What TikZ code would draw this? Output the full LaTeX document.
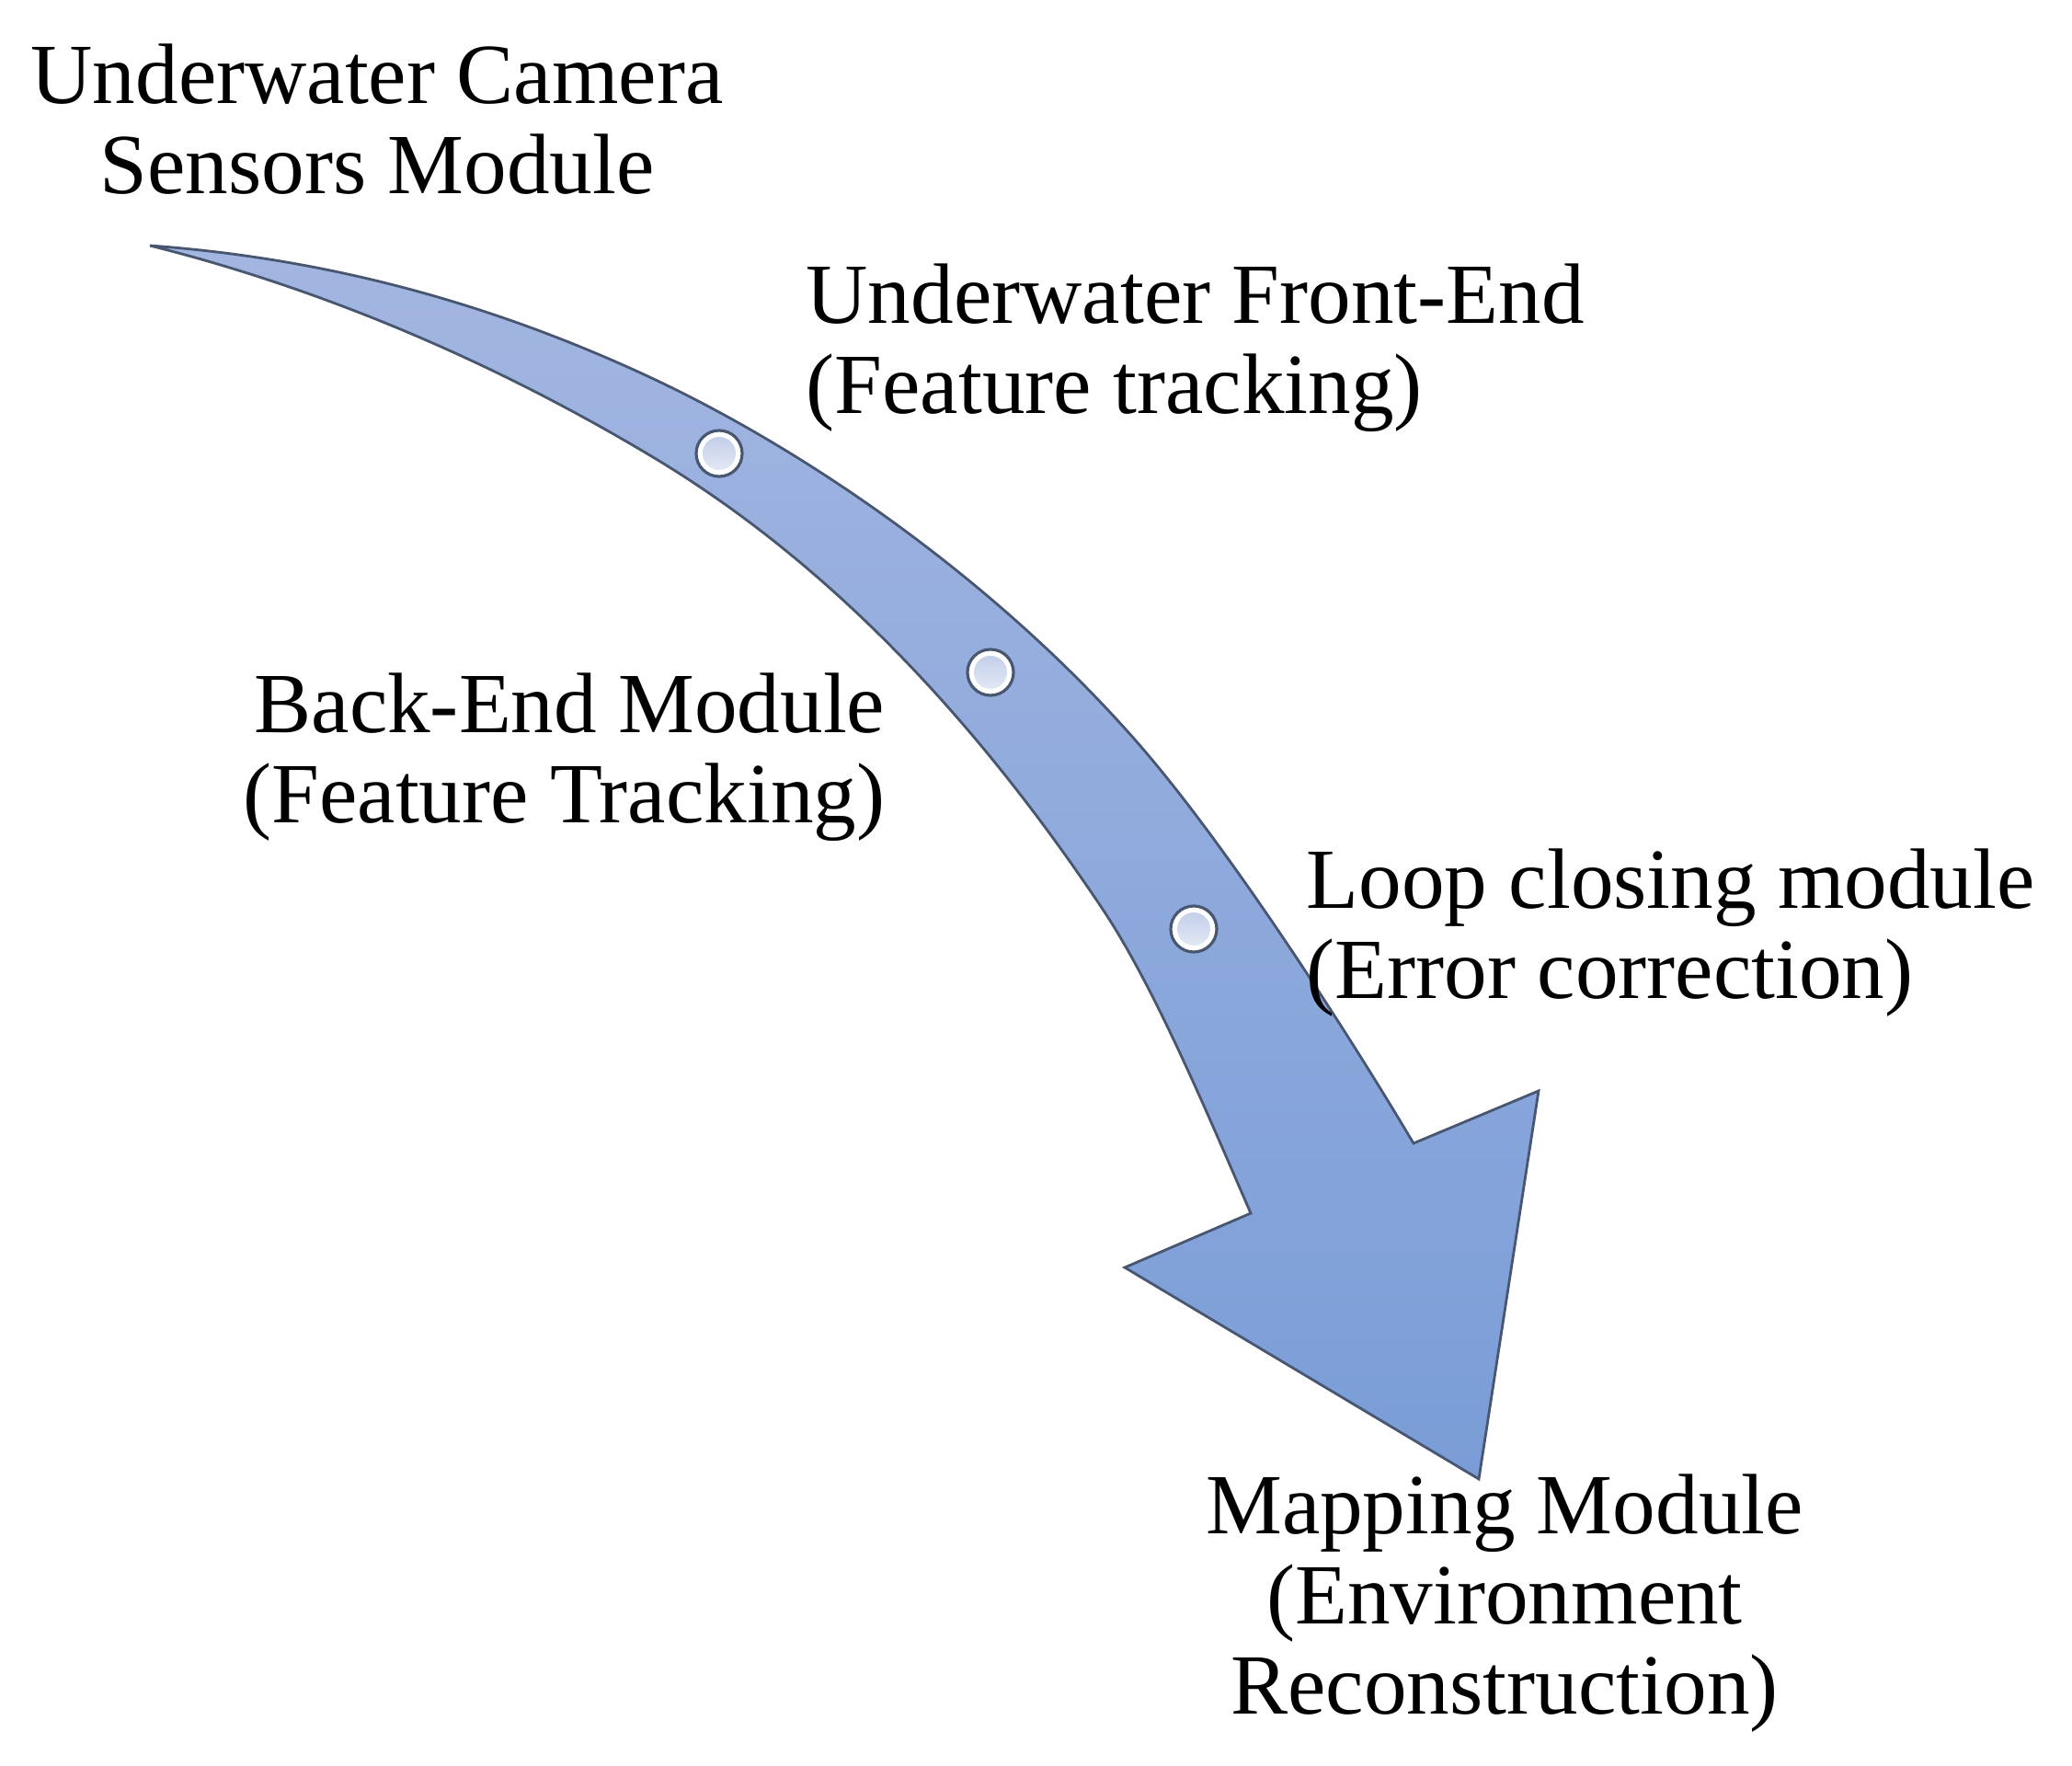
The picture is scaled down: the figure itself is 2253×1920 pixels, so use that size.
\documentclass[tikz,border=0pt]{standalone}
\usepackage{fontspec}
\setmainfont{Liberation Serif}
\usetikzlibrary{positioning}

\definecolor{arrowtop}{RGB}{163,182,225}
\definecolor{arrowbot}{RGB}{122,157,215}
\definecolor{arrowline}{RGB}{72,86,112}
\definecolor{dottop}{RGB}{196,207,233}
\definecolor{dotbot}{RGB}{226,232,245}

\tikzset{
  modtext/.style={font=\fontsize{26.5}{27.8}\selectfont, inner sep=0pt},
  stepdot/.style={circle, draw=arrowline, line width=0.9pt, fill=white,
    minimum size=0.5cm, inner sep=0pt},
}

\begin{document}
\begin{tikzpicture}[x=0.01cm, y=-0.01cm]
  \useasboundingbox (0,0) rectangle (2253,1920);

  % Arrow outline points
  \coordinate (tail) at (163,267);
  \coordinate (up1) at (700,407);
  \coordinate (up2) at (1233,803);
  \coordinate (NR) at (1537,1243);
  \coordinate (BR) at (1673,1186);
  \coordinate (tip) at (1608,1608);
  \coordinate (BL) at (1223,1378);
  \coordinate (NL) at (1360,1319);
  \coordinate (lo1) at (1200,990);
  \coordinate (lo2) at (710,497);

  % Curved arrow
  \shade[top color=arrowtop, bottom color=arrowbot, draw=arrowline,
         line width=0.8pt, line join=miter]
    (tail) .. controls (343,280) and (520,324) .. (up1)
           .. controls (880,490) and (1083,633) .. (up2)
           .. controls (1333,916) and (1467,1125) .. (NR)
    -- (BR) -- (tip) -- (BL) -- (NL)
           .. controls (1310,1204) and (1255,1073) .. (lo1)
           .. controls (1040,750) and (875,596) .. (lo2)
           .. controls (530,389) and (343,312) .. (tail)
    -- cycle;

  % Step markers
  \foreach \name/\pos in {d1/{(782,493)}, d2/{(1077,731)}, d3/{(1298,1010)}} {
    \node[stepdot] (\name) at \pos {};
    \shade[top color=dottop, bottom color=dotbot] (\name.center) circle (0.18cm);
  }

  % Labels (anchored at the baseline of the last line)
  \node[modtext, align=center, anchor=base] (cam) at (410,210)
    {Underwater Camera\\Sensors Module};
  \node[modtext, align=left, anchor=base west] (front) at (876,449)
    {Underwater Front-End\\(Feature tracking)};
  \node[modtext, align=right, anchor=base east] (back) at (963,894)
    {Back-End Module\\(Feature Tracking)};
  \node[modtext, align=left, anchor=base west] (loop) at (1420,1085)
    {Loop closing module\\(Error correction)};
  \node[modtext, align=center, anchor=base] (map) at (1636,1863)
    {Mapping Module\\(Environment\\Reconstruction)};
\end{tikzpicture}
\end{document}
